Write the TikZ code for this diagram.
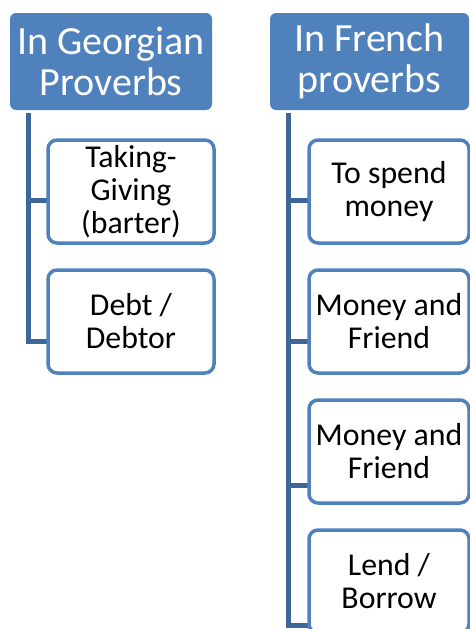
\documentclass[tikz,border=0pt]{standalone}
\usepackage{fontspec}
\setmainfont{Carlito}
\usetikzlibrary{calc}
\definecolor{hdrblue}{RGB}{79,129,189}
\definecolor{trunkblue}{RGB}{62,102,152}
\tikzset{
  header/.style={fill=hdrblue, rounded corners=6pt, text=white, align=center,
    inner sep=0pt, minimum height=97pt,
    font=\fontsize{40}{41.5}\selectfont},
  kidbox/.style={draw=hdrblue, fill=white, line width=3.5pt, rounded corners=9pt,
    align=center, inner sep=0pt, minimum height=103pt,
    font=\fontsize{31.8}{33}\selectfont},
  trunk/.style={draw=trunkblue, line width=5pt}
}

\begin{document}
\begin{tikzpicture}[x=1pt,y=-1pt]
			%%%%% START %%%%%
			\useasboundingbox (0,0) rectangle (470,629);
			
			\node[header, minimum width=202pt] (hdrG) at (111, 61.5) {In Georgian\\Proverbs};
			\node[header, minimum width=199pt] (hdrF) at (369.5, 61.5) {In French\\proverbs};
			
			\coordinate (topG) at (28, 113);
			\coordinate (jG1) at (28, 200);
			\coordinate (jG2) at (28, 341);
			
			\coordinate (topF) at (288, 113);
			\coordinate (jF1) at (288, 200);
			\coordinate (jF2) at (288, 341);
			\coordinate (jF3) at (288, 485);
			\coordinate (jF4) at (288, 625);
			
			% trunks and branches
			\draw[trunk] (jG1) -- (jG1 -| 48, 0);
			\draw[trunk] (topG) -- (jG2) -- (jG2 -| 48, 0);
			\draw[trunk] (jF1) -- (jF1 -| 309, 0);
			\draw[trunk] (jF2) -- (jF2 -| 309, 0);
			\draw[trunk] (jF3) -- (jF3 -| 309, 0);
			\draw[trunk] (topF) -- (jF4) -- (jF4 -| 309, 0);
			
			% georgian boxes
			\node[kidbox, minimum width=166pt] (kidG1) at (131, 191.5) {Taking-\\Giving\\(barter)};
			\node[kidbox, minimum width=166pt] (kidG2) at (131, 321.5) {Debt /\\Debtor};
			
			% french boxes
			\node[kidbox, minimum width=160pt] (kidF1) at (389, 191.5) {To spend\\money};
			\node[kidbox, minimum width=160pt] (kidF2) at (389, 321.5) {Money and\\Friend};
			\node[kidbox, minimum width=160pt] (kidF3) at (389, 451.5) {Money and\\Friend};
			\node[kidbox, minimum width=160pt] (kidF4) at (389, 581.5) {Lend /\\Borrow};
			%%%%% END %%%%%
\end{tikzpicture}
\end{document}
